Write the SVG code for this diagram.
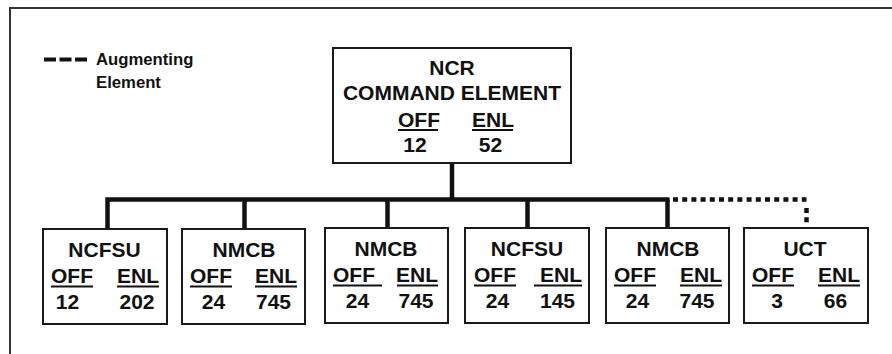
<svg xmlns="http://www.w3.org/2000/svg" width="892" height="354" viewBox="0 0 892 354">
<style>
.box{fill:#fff;stroke:#1a1a1a;stroke-width:2}
.t{font-family:"Liberation Sans",Arial,sans-serif;font-size:21px;font-weight:bold;fill:#111}
.m{text-anchor:middle}
.e{text-anchor:end}
.lg{font-family:"Liberation Sans",Arial,sans-serif;font-size:16.7px;font-weight:bold;fill:#111}
.ul{stroke:#111;stroke-width:1.8}
.solid{fill:none;stroke:#111;stroke-width:4.5}
.dot{fill:none;stroke:#111;stroke-width:4.5;stroke-dasharray:5 4.2}
.frame{fill:none;stroke:#333;stroke-width:2}
</style>
<rect width="892" height="354" fill="#fff"/>
<path class="frame" d="M10 354 V8 H892"/>
<g id="legend">
<line x1="44" y1="59.5" x2="87" y2="59.5" stroke="#111" stroke-width="4" stroke-dasharray="12 3.5"/>
<text class="lg" x="96" y="65">Augmenting</text>
<text class="lg" x="96" y="88">Element</text>
</g>
<g id="connectors">
<path class="solid" d="M452 163 V199.5"/>
<path class="solid" d="M107.5 229 V199.5 H669.5"/>
<path class="solid" d="M244.5 199.5 V229"/>
<path class="solid" d="M387.5 199.5 V228"/>
<path class="solid" d="M527.5 199.5 V228"/>
<path class="solid" d="M667.5 199.5 V228"/>
<path class="dot" d="M673 199.5 H806.5"/>
<path class="dot" d="M806.5 208 V226"/>
</g>
<g id="ncr">
<rect class="box" x="333" y="48" width="238" height="115"/>
<text class="t m" x="452" y="75">NCR</text>
<text class="t m" x="452" y="100">COMMAND ELEMENT</text>
<text class="t" x="398" y="127">OFF</text>
<line class="ul" x1="398" y1="130" x2="438" y2="130"/>
<text class="t" x="472" y="127">ENL</text>
<line class="ul" x1="472" y1="130" x2="513" y2="130"/>
<text class="t m" x="415" y="152">12</text>
<text class="t m" x="490.5" y="152">52</text>
</g>
<g id="ncfsu1">
<rect class="box" x="43" y="229" width="124" height="95"/>
<text class="t m" x="104.5" y="257">NCFSU</text>
<text class="t" x="51" y="283">OFF</text>
<line class="ul" x1="51" y1="286.5" x2="93" y2="286.5"/>
<text class="t e" x="159" y="283">ENL</text>
<line class="ul" x1="117" y1="286.5" x2="159" y2="286.5"/>
<text class="t m" x="67.5" y="308.5">12</text>
<text class="t m" x="137" y="308.5">202</text>
</g>
<g id="nmcb1">
<rect class="box" x="182" y="229" width="123" height="95"/>
<text class="t m" x="244" y="257">NMCB</text>
<text class="t" x="190" y="283">OFF</text>
<line class="ul" x1="190" y1="286.5" x2="232" y2="286.5"/>
<text class="t e" x="297" y="283">ENL</text>
<line class="ul" x1="255" y1="286.5" x2="297" y2="286.5"/>
<text class="t m" x="213.5" y="308.5">24</text>
<text class="t m" x="273.5" y="308.5">745</text>
</g>
<g id="nmcb2">
<rect class="box" x="325" y="228" width="123" height="95"/>
<text class="t m" x="386" y="256">NMCB</text>
<text class="t" x="333" y="282">OFF</text>
<line class="ul" x1="333" y1="285.5" x2="382" y2="285.5"/>
<text class="t e" x="438" y="282">ENL</text>
<line class="ul" x1="397" y1="285.5" x2="438" y2="285.5"/>
<text class="t m" x="357.5" y="308">24</text>
<text class="t m" x="416" y="308">745</text>
</g>
<g id="ncfsu2">
<rect class="box" x="465" y="228" width="124" height="95"/>
<text class="t m" x="527" y="256">NCFSU</text>
<text class="t" x="474" y="282">OFF</text>
<line class="ul" x1="474" y1="285.5" x2="516" y2="285.5"/>
<text class="t e" x="582" y="282">ENL</text>
<line class="ul" x1="534" y1="285.5" x2="582" y2="285.5"/>
<text class="t m" x="497.5" y="308">24</text>
<text class="t m" x="557.5" y="308">145</text>
</g>
<g id="nmcb3">
<rect class="box" x="606" y="228" width="123" height="95"/>
<text class="t m" x="668" y="256">NMCB</text>
<text class="t" x="614" y="282">OFF</text>
<line class="ul" x1="614" y1="285.5" x2="656" y2="285.5"/>
<text class="t e" x="722" y="282">ENL</text>
<line class="ul" x1="680" y1="285.5" x2="722" y2="285.5"/>
<text class="t m" x="637.5" y="308">24</text>
<text class="t m" x="697" y="308">745</text>
</g>
<g id="uct">
<rect class="box" x="744" y="228" width="124" height="95"/>
<text class="t m" x="805" y="256">UCT</text>
<text class="t" x="752" y="282">OFF</text>
<line class="ul" x1="752" y1="285.5" x2="794" y2="285.5"/>
<text class="t e" x="860" y="282">ENL</text>
<line class="ul" x1="818" y1="285.5" x2="860" y2="285.5"/>
<text class="t m" x="777" y="308">3</text>
<text class="t m" x="835.5" y="308">66</text>
</g>
</svg>
